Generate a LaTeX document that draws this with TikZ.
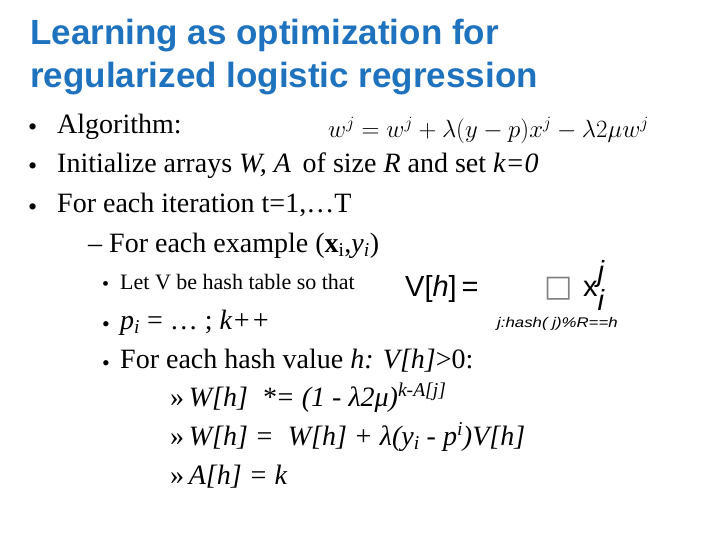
\documentclass[tikz,border=0pt]{standalone}
\usepackage{fontspec}
\setmainfont{Liberation Serif}
\newfontfamily\titlefont{Liberation Sans}
\newfontfamily\hfont{Liberation Sans}
\newfontfamily\dvs{DejaVu Sans}
\definecolor{titleblue}{RGB}{31,115,190}
\begin{document}
\begin{tikzpicture}[x=1pt,y=-1pt,
  title/.style={anchor=base west,font=\titlefont\bfseries\fontsize{35}{40}\selectfont,text=titleblue,inner sep=0},
  body/.style={anchor=base west,font=\fontsize{28}{30}\selectfont,inner sep=0},
  bul/.style={anchor=base west,font=\fontsize{26}{28}\selectfont,inner sep=0},
  small/.style={anchor=base west,font=\fontsize{22}{24}\selectfont,inner sep=0}]
\useasboundingbox (0,0) rectangle (720,540);
\node[title] (t1) at (30,45) {Learning as optimization for};
\node[title] (t2) at (30,88) {regularized logistic regression};
\node[bul] (u1) at (28,136) {•};
\node[body] (b1) at (57,134) {Algorithm:};
\node[anchor=base west,inner sep=0,font=\fontsize{27}{30}\selectfont] (eq) at (328,138) {$w^j = w^j + \lambda(y-p)x^j - \lambda 2\mu w^j$};
\node[bul] (u2) at (28,175) {•};
\node[body] (b2) at (57,173) {Initialize arrays \textit{W, A}\, of size \textit{R} and set \textit{k=0}};
\node[bul] (u3) at (28,215) {•};
\node[body] (b3) at (57,213) {For each iteration t=1,…T};
\node[body] (b4) at (88,252) {– For each example (\textbf{x}\textsubscript{i},\textit{y\textsubscript{i}})};
\node[bul] (u5) at (102,290) {\fontsize{20}{20}\selectfont•};
\node[small] (b5) at (120,289) {Let V be hash table so that};
\node[anchor=base west,inner sep=0,font=\hfont\fontsize{29}{32}\selectfont] (vh) at (405,296) {V[\textit{h}]\,=};
\node[anchor=base west,inner sep=0,font=\dvs\fontsize{30}{32}\selectfont,text=gray] (box) at (544,296) {□};
\node[anchor=base west,inner sep=0,font=\hfont\fontsize{29}{32}\selectfont] (xij) at (583,296) {x$^{\textit{j}}_{\textit{i}}$};
\node[anchor=base west,inner sep=0,font=\hfont\itshape\fontsize{14}{16}\selectfont,xscale=1.2] (sub) at (497,327) {j:hash( j)\%R==h};
\node[bul] (u6) at (102,331) {\fontsize{22}{22}\selectfont•};
\node[body] (b6) at (120,329) {\textit{p\textsubscript{i}} = … ; \textit{k++}};
\node[bul] (u7) at (102,370) {\fontsize{22}{22}\selectfont•};
\node[body] (b7) at (120,368) {For each hash value \textit{h: V[h]}>0:};
\node[body] (b8) at (170,406) {»\,\textit{W[h]\enspace*= (1 - λ2μ)\textsuperscript{k-A[j]}}};
\node[body] (b9) at (170,445) {»\,\textit{W[h] =\enspace W[h] + λ(y\textsubscript{i} - p\textsuperscript{i})V[h]}};
\node[body] (b10) at (170,484) {»\,\textit{A[h] = k}};
\end{tikzpicture}
\end{document}
